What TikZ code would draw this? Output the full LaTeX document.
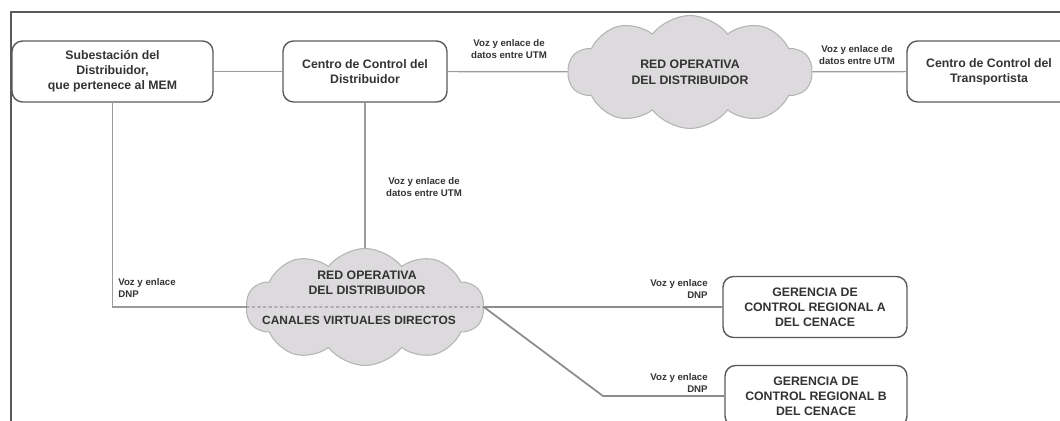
\documentclass[tikz,border=0pt]{standalone}
\usepackage{fontspec}
\setmainfont{Liberation Sans}
\usetikzlibrary{shapes.symbols}
\definecolor{linea}{HTML}{9C9C9C}
\definecolor{borde}{HTML}{5A5A5A}
\definecolor{nube}{HTML}{DCDADC}
\definecolor{nubeb}{HTML}{B4B4B4}
\definecolor{texto}{HTML}{333333}
\begin{document}
\begin{tikzpicture}[x=0.02cm,y=-0.02cm,
		caja/.style={draw=borde,line width=0.8pt,rounded corners=6pt,align=center,text=texto,font=\fontsize{7}{8.5}\selectfont\bfseries,inner sep=0pt,minimum height=1.22cm},
		red/.style={cloud,cloud puffs=10,cloud puff arc=105,cloud ignores aspect,draw=nubeb,fill=nube,line width=0.6pt,inner sep=0pt,align=center,text=texto,font=\fontsize{7}{9}\selectfont\bfseries},
		etq/.style={text=texto,font=\fontsize{5.5}{6.8}\selectfont\bfseries,inner sep=0pt},
		enlace/.style={draw=linea,line width=0.7pt}]
		\useasboundingbox (0,0) rectangle (1060,421);
		\clip (0,0) rectangle (1060,421);
		\draw[borde,line width=1.2pt] (11,421) -- (11,12) -- (1060,12);
		\node[caja,minimum width=4.02cm] (S) at (112.5,71.5) {Subestación del\\Distribuidor,\\que pertenece al MEM};
		\node[caja,minimum width=3.28cm] (C) at (365,71.5) {Centro de Control del\\Distribuidor};
		\node[red,minimum width=4.88cm,minimum height=2.26cm] (R1) at (690,72) {RED OPERATIVA\\DEL DISTRIBUIDOR};
		\node[caja,minimum width=3.28cm] (T) at (989,71.5) {Centro de Control del\\Transportista};
		\node[red,minimum width=4.76cm,minimum height=2.34cm] (R2) at (365,307) {};
		\node[red,draw=none,fill=none,font=\fontsize{7}{8.5}\selectfont\bfseries] (R2a) at (367,283) {RED OPERATIVA\\DEL DISTRIBUIDOR};
		\node[red,draw=none,fill=none,font=\fontsize{6.8}{8}\selectfont\bfseries] (R2b) at (359,320) {CANALES VIRTUALES DIRECTOS};
		\node[caja,minimum width=3.68cm] (GA) at (815,307) {GERENCIA DE\\CONTROL REGIONAL A\\DEL CENACE};
		\node[caja,minimum width=3.64cm] (GB) at (816,396) {GERENCIA DE\\CONTROL REGIONAL B\\DEL CENACE};
		\coordinate (K) at (603,396);
		\draw[enlace] (S) -- (C);
		\draw[enlace] (C) -- (R1);
		\draw[enlace] (R1) -- (T);
		\draw[enlace] (C) -- (R2.north);
		\draw[enlace] (S.south) -- (S.south |- R2.west) -- (R2.west);
		\draw[borde,line width=0.5pt,dash pattern=on 1.8pt off 1.4pt] (R2.west) -- (R2.east);
		\draw[enlace,draw=gray!90,line width=1pt] (R2.east) -- (GA);
		\draw[enlace,draw=gray!90,line width=1pt] (R2.east) -- (K) -- (GB);
		\node[etq,align=center] (E1) at (509,49) {Voz y enlace de\\datos entre UTM};
		\node[etq,align=center] (E2) at (857,55) {Voz y enlace de\\datos entre UTM};
		\node[etq,align=center] (E3) at (424,187) {Voz y enlace de\\datos entre UTM};
		\node[etq,align=left,anchor=west] (E4) at (118,288) {Voz y enlace\\DNP};
		\node[etq,align=right,anchor=east] (E5) at (708,289) {Voz y enlace\\DNP};
		\node[etq,align=right,anchor=east] (E6) at (708,383) {Voz y enlace\\DNP};
	\end{tikzpicture}
\end{document}
